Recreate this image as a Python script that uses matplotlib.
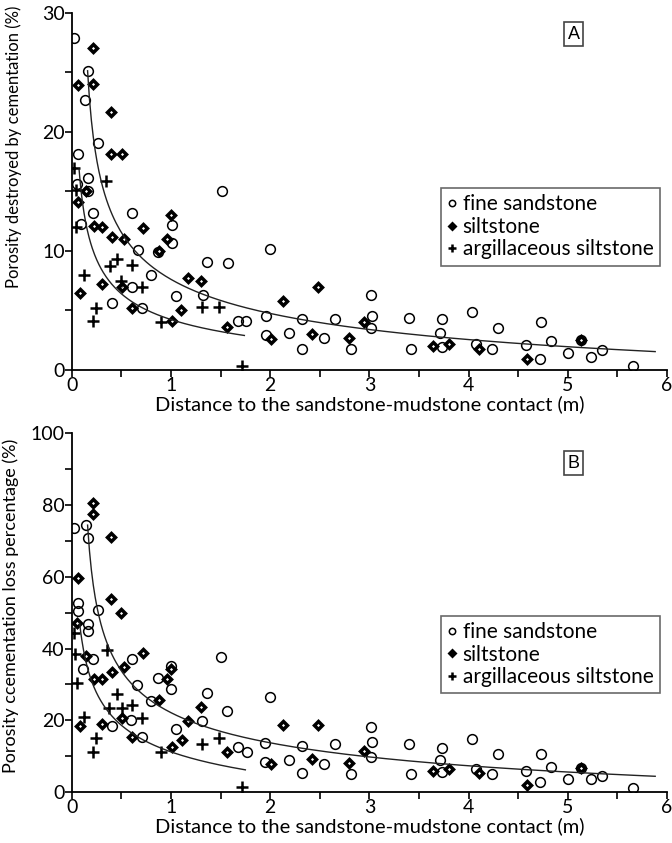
import numpy as np
import matplotlib
matplotlib.use('Agg')
from matplotlib import pyplot as plt
from matplotlib.ticker import MultipleLocator

plt.rcParams['font.family'] = ['Lato', 'DejaVu Sans']

# ---- panel A: porosity destroyed by cementation (%) ----
a_fine_x = [0.02, 0.16, 0.135, 0.26, 0.06, 0.16, 0.05, 0.165, 1.51, 0.21, 0.61, 0.09, 1.01, 0.67, 1.01,
            0.87, 2.0, 1.36, 1.58, 0.80, 0.61, 1.05, 1.32, 0.41, 0.71, 1.68, 1.76, 1.96, 1.96, 2.19,
            2.32, 2.32, 2.54, 2.65, 2.81, 3.02, 3.03, 3.02, 3.40, 3.42, 3.73, 3.71, 3.73, 4.03, 4.07,
            4.24, 4.30, 4.58, 4.73, 4.72, 4.83, 5.0, 5.13, 5.23, 5.34, 5.66]
a_fine_y = [27.9, 25.1, 22.7, 19.1, 18.1, 16.1, 15.6, 15.0, 15.0, 13.2, 13.2, 12.3, 12.2, 10.1, 10.7,
            9.9, 10.2, 9.1, 9.0, 8.0, 7.0, 6.2, 6.3, 5.6, 5.2, 4.1, 4.1, 4.5, 2.9, 3.1,
            4.3, 1.8, 2.7, 4.3, 1.8, 6.3, 4.5, 3.5, 4.4, 1.8, 4.3, 3.1, 1.95, 4.9, 2.2,
            1.8, 3.5, 2.1, 4.05, 0.9, 2.45, 1.45, 2.5, 1.1, 1.7, 0.3]
a_silt_x = [0.21, 0.06, 0.21, 0.40, 0.40, 0.51, 0.14, 0.06, 1.0, 0.22, 0.31, 0.72, 0.41, 0.53, 0.96,
            0.88, 1.17, 1.30, 0.31, 0.51, 0.08, 0.61, 1.10, 1.01, 1.56, 2.01, 2.13, 2.48, 2.42, 2.79,
            2.95, 3.64, 3.80, 4.10, 4.59, 5.13]
a_silt_y = [27.0, 23.9, 24.0, 21.7, 18.1, 18.1, 15.0, 14.1, 13.0, 12.1, 12.0, 11.9, 11.2, 11.0, 11.0,
            10.0, 7.7, 7.5, 7.2, 7.0, 6.5, 5.2, 5.0, 4.1, 3.6, 2.6, 5.8, 7.0, 3.0, 2.65,
            4.0, 2.0, 2.2, 1.8, 0.9, 2.5]
a_argi_x = [0.02, 0.35, 0.04, 0.04, 0.46, 0.39, 0.61, 0.125, 0.50, 0.71, 0.24, 1.31, 1.48, 0.21, 0.90, 1.72]
a_argi_y = [17.0, 15.9, 15.1, 12.0, 9.3, 8.7, 8.8, 8.0, 7.5, 7.0, 5.2, 5.3, 5.3, 4.1, 4.0, 0.3]

# trend lines
a_up_x = [0.16, 0.175, 0.20, 0.233, 0.284, 0.36, 0.41, 0.63, 0.97, 1.31, 1.64, 2.02, 3.03, 4.08, 5.34, 5.88]
a_up_y = [27.9, 23.3, 20.5, 17.7, 15.5, 13.3, 12.2, 10.6, 8.1, 6.4, 5.6, 4.9, 3.63, 2.37, 1.68, 1.53]
a_lo_x = [0.074, 0.091, 0.142, 0.19, 0.294, 0.463, 0.71, 0.97, 1.31, 1.74]
a_lo_y = [17.3, 14.4, 12.2, 11.0, 9.1, 6.7, 5.2, 4.05, 3.5, 3.0]

# ---- panel B: porosity cementation loss percentage (%) ----
b_fine_x = [0.02, 0.14, 0.16, 0.06, 0.06, 0.26, 0.16, 0.165, 0.21, 0.61, 1.50, 1.0, 0.11, 0.87, 0.66,
            1.0, 1.36, 0.80, 2.0, 1.57, 0.60, 1.31, 0.41, 1.05, 0.71, 1.68, 1.77, 1.95, 1.95, 2.19,
            2.32, 2.32, 2.54, 2.65, 2.81, 3.02, 3.03, 3.02, 3.40, 3.42, 3.73, 3.71, 3.73, 4.03, 4.07,
            4.24, 4.30, 4.58, 4.73, 4.72, 4.83, 5.0, 5.13, 5.23, 5.34, 5.66]
b_fine_y = [73.5, 74.3, 70.8, 52.8, 50.4, 50.7, 46.7, 44.8, 37.0, 37.1, 37.7, 35.0, 34.2, 31.7, 29.7,
            28.6, 27.7, 25.5, 26.4, 22.6, 20.2, 19.8, 18.4, 17.5, 15.4, 12.5, 11.2, 13.7, 8.3, 8.9,
            12.8, 5.4, 7.8, 13.3, 4.9, 18.0, 13.8, 9.7, 13.3, 5.0, 12.4, 8.9, 5.5, 14.7, 6.3,
            5.0, 10.5, 5.9, 10.5, 2.7, 7.1, 3.6, 6.8, 3.6, 4.5, 1.0]
b_silt_x = [0.21, 0.21, 0.40, 0.06, 0.40, 0.50, 0.05, 0.14, 0.72, 0.53, 1.0, 0.41, 0.22, 0.31, 0.96,
            0.88, 1.30, 0.51, 1.17, 0.08, 0.31, 2.13, 0.61, 1.11, 1.01, 1.56, 2.01, 2.48, 2.42, 2.79,
            2.95, 3.64, 3.80, 4.10, 4.59, 5.13]
b_silt_y = [80.5, 77.5, 71.1, 59.6, 53.8, 49.8, 47.2, 37.9, 38.8, 34.9, 34.2, 33.5, 31.4, 31.4, 31.5,
            25.7, 23.8, 20.7, 19.8, 18.5, 18.9, 18.6, 15.3, 14.5, 12.5, 11.2, 7.8, 18.7, 9.1, 8.0,
            11.5, 5.9, 6.4, 5.2, 2.0, 6.8]
b_argi_x = [0.02, 0.355, 0.03, 0.05, 0.46, 0.38, 0.51, 0.61, 0.125, 0.71, 0.24, 1.48, 1.31, 0.21, 0.90, 1.72]
b_argi_y = [44.3, 39.7, 38.5, 30.5, 27.2, 23.3, 23.3, 24.3, 21.0, 20.7, 15.0, 15.0, 13.5, 11.2, 11.1, 1.3]

b_up_x = [0.16, 0.165, 0.185, 0.22, 0.277, 0.355, 0.43, 0.63, 0.87, 1.17, 1.48, 1.95, 3.0, 3.71, 4.58, 5.34, 5.88]
b_up_y = [82.8, 73.0, 63.8, 54.5, 47.0, 39.6, 35.5, 30.3, 24.3, 19.6, 16.8, 14.5, 10.5, 8.9, 6.0, 4.6, 4.3]
b_lo_x = [0.08, 0.108, 0.16, 0.226, 0.294, 0.50, 0.71, 0.90, 1.31, 1.75]
b_lo_y = [47.5, 40.5, 33.0, 30.0, 26.1, 19.6, 15.4, 11.2, 8.0, 6.5]

labels = ['fine sandstone', 'siltstone', 'argillaceous siltstone']
xlabel = 'Distance to the sandstone-mudstone contact (m)'


def fit_trend(xs, ys):
    # y = a*(x - x0)^b + c, small grid over x0 and c, linear fit in log space
    xs = np.asarray(xs, float)
    ys = np.asarray(ys, float)
    best = None
    for x0 in np.linspace(0, xs.min() * 0.95, 40):
        for c in np.linspace(-4 * ys.min(), 0.9 * ys.min(), 60):
            b, la = np.polyfit(np.log(xs - x0), np.log(ys - c), 1)
            pred = np.exp(la) * (xs - x0) ** b + c
            err = np.sum(((pred - ys) / ys) ** 2)
            if best is None or err < best[0]:
                best = (err, x0, c, b, la)
    _, x0, c, b, la = best
    xx = np.linspace(xs.min(), xs.max(), 300)
    return xx, np.exp(la) * (xx - x0) ** b + c


def draw_panel(ax, fine, silt, argi, curves, ymax, ymajor, ylabel, tag, tag_y, leg_top):
    ax.plot(fine[0], fine[1], 'o', ms=7, mfc='none', mec='black', mew=1.1, label=labels[0])
    ax.plot(silt[0], silt[1], 'D', ms=4, mfc='white', mec='black', mew=2.5, label=labels[1])
    ax.plot(argi[0], argi[1], '+', ms=9, mec='black', mew=1.8, label=labels[2])
    for cx, cy in curves:
        xx, yy = fit_trend(cx, cy)
        ax.plot(xx, yy, '-', color='#222222', lw=1.0)

    ax.set_xlim(0, 6)
    ax.set_ylim(0, ymax)
    ax.xaxis.set_major_locator(MultipleLocator(1))
    ax.xaxis.set_minor_locator(MultipleLocator(0.5))
    ax.yaxis.set_major_locator(MultipleLocator(ymajor))
    ax.yaxis.set_minor_locator(MultipleLocator(ymajor / 2))
    ax.tick_params(which='both', direction='out', length=5, width=1.2, labelsize=14, pad=0)
    for s in ['top', 'right']:
        ax.spines[s].set_visible(False)
    for s in ['left', 'bottom']:
        ax.spines[s].set_linewidth(1.3)

    ax.set_xlabel(xlabel, fontsize=14.5, labelpad=1)
    ax.set_ylabel(ylabel[0], fontsize=ylabel[1])
    ax.yaxis.set_label_coords(ylabel[2], ylabel[3])

    ax.text(5.06, tag_y, tag, family='Liberation Sans', fontsize=13, ha='center', va='center',
            bbox=dict(boxstyle='square,pad=0.2', fc='white', ec='#444444', lw=1.2))

    leg = ax.legend(loc='upper left', bbox_to_anchor=(0.62, leg_top), fontsize=15, frameon=True,
                    fancybox=False, edgecolor='#444444', handlelength=0.5, handletextpad=0.25,
                    labelspacing=0.12, borderpad=0.3, markerscale=0.65, borderaxespad=0)
    leg.get_frame().set_linewidth(1.2)


fig = plt.figure(figsize=(6.72, 8.43), dpi=100)
ax1 = fig.add_axes([0.1067, 0.5611, 0.886, 0.4238])
ax2 = fig.add_axes([0.1067, 0.0605, 0.886, 0.4255])

draw_panel(ax1, (a_fine_x, a_fine_y), (a_silt_x, a_silt_y), (a_argi_x, a_argi_y),
           [(a_up_x, a_up_y), (a_lo_x, a_lo_y)], 30, 10,
           ('Porosity destroyed by cementation (%)', 12, -0.083, 0.625), 'A', 28.2, 0.509)
draw_panel(ax2, (b_fine_x, b_fine_y), (b_silt_x, b_silt_y), (b_argi_x, b_argi_y),
           [(b_up_x, b_up_y), (b_lo_x, b_lo_y)], 100, 20,
           ('Porosity ccementation loss percentage (%)', 13, -0.088, 0.52), 'B', 91.7, 0.4907)

fig.savefig('out.png', dpi=100)
